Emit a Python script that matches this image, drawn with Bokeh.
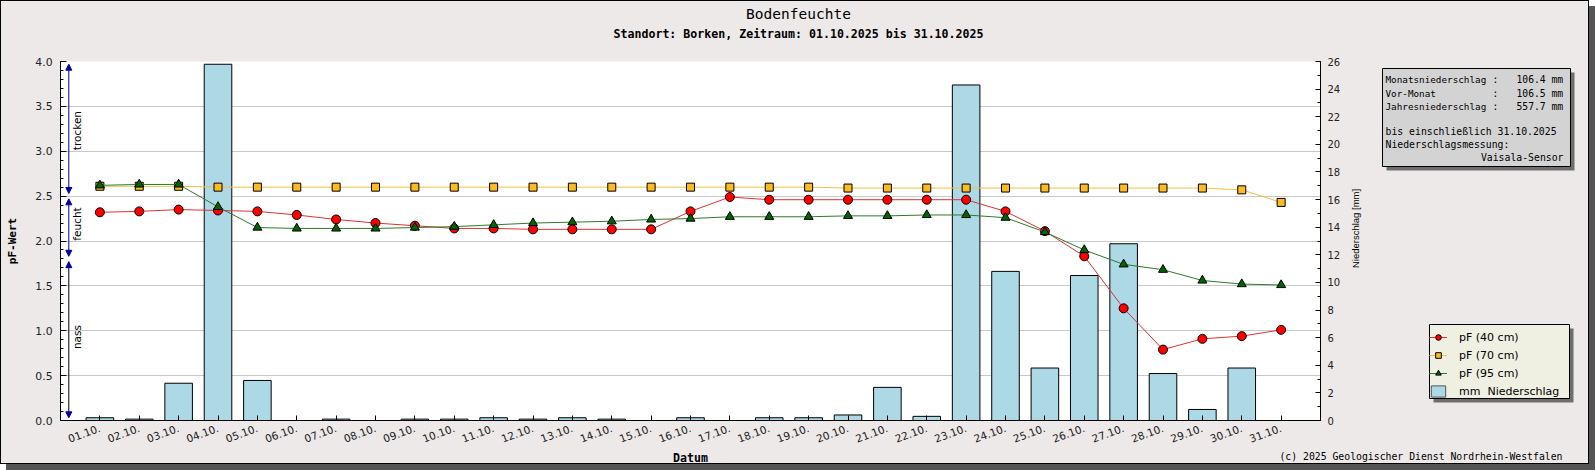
from math import pi
from bokeh.plotting import figure
from bokeh.layouts import column, row
from bokeh.models import (Range1d, LinearAxis, FixedTicker, PrintfTickFormatter, Label,
                          Legend, LegendItem, Arrow, NormalHead)
from bokeh.embed import file_html
from bokeh.resources import INLINE

# ---------------- data ----------------
days = list(range(1, 32))
day_labels = ["01.10.", "02.10.", "03.10.", "04.10.", "05.10.", "06.10.", "07.10.", "08.10.",
              "09.10.", "10.10.", "11.10.", "12.10.", "13.10.", "14.10.", "15.10.", "16.10.",
              "17.10.", "18.10.", "19.10.", "20.10.", "21.10.", "22.10.", "23.10.", "24.10.",
              "25.10.", "26.10.", "27.10.", "28.10.", "29.10.", "30.10.", "31.10."]
pf_40 = [2.32, 2.33, 2.35, 2.34, 2.33, 2.29, 2.24, 2.20, 2.17, 2.14, 2.14, 2.13, 2.13, 2.13, 2.13, 2.33,
         2.49, 2.46, 2.46, 2.46, 2.46, 2.46, 2.46, 2.33, 2.11, 1.83, 1.25, 0.79, 0.91, 0.94, 1.01]
pf_70 = [2.61, 2.61, 2.61, 2.60, 2.60, 2.60, 2.60, 2.60, 2.60, 2.60, 2.60, 2.60, 2.60, 2.60, 2.60, 2.60,
         2.60, 2.60, 2.60, 2.59, 2.59, 2.59, 2.59, 2.59, 2.59, 2.59, 2.59, 2.59, 2.59, 2.57, 2.43]
pf_95 = [2.62, 2.63, 2.63, 2.38, 2.15, 2.14, 2.14, 2.14, 2.15, 2.16, 2.18, 2.20, 2.21, 2.22, 2.24, 2.25,
         2.27, 2.27, 2.27, 2.28, 2.28, 2.29, 2.29, 2.26, 2.10, 1.90, 1.74, 1.68, 1.56, 1.52, 1.51]
rain_mm = [0.2, 0.1, 2.7, 25.8, 2.9, 0.0, 0.1, 0.0, 0.1, 0.1, 0.2, 0.1, 0.2, 0.1, 0.0, 0.2,
           0.0, 0.2, 0.2, 0.4, 2.4, 0.3, 24.3, 10.8, 3.8, 10.5, 12.8, 3.4, 0.8, 3.8, 0.0]
pf_ticks = [0.0, 0.5, 1.0, 1.5, 2.0, 2.5, 3.0, 3.5, 4.0]
mm_ticks = [0, 2, 4, 6, 8, 10, 12, 14, 16, 18, 20, 22, 24, 26]
zone_names = ["trocken", "feucht", "nass"]
zone_bounds = [4.0, 2.5, 1.8, 0.0]
zone_label_pos = [3.23, 2.19, 0.93]
series_names = ["pF (40 cm)", "pF (70 cm)", "pF (95 cm)", "mm  Niederschlag"]
info_names = ["Monatsniederschlag", "Vor-Monat", "Jahresniederschlag"]
info_values = ["106.4 mm", "106.5 mm", "557.7 mm"]
info_notes = ["bis einschließlich 31.10.2025", "Niederschlagsmessung:"]
info_right = "Vaisala-Sensor"
title = "Bodenfeuchte"
subtitle = "Standort: Borken, Zeitraum: 01.10.2025 bis 31.10.2025"
copyright_text = "(c) 2025 Geologischer Dienst Nordrhein-Westfalen"

# ---------------- layout (pixels inside the outer 1px border) ----------------
WIN, HIN = 1587, 462
HEAD_H, FOOT_H = 50, 12
MID_H = HIN - HEAD_H - FOOT_H          # 400
MAIN_W = 1345
SIDE_W = WIN - MAIN_W
FL, FR = 59, 1319                      # frame left / right
FT, FB = 60, 419                       # frame top / bottom
BT = FT - HEAD_H                       # 10
BB = HEAD_H + MID_H - FB               # 31

BG = "#ECE9E8"
MONO = "DejaVu Sans Mono"
SANS = "DejaVu Sans"
SHADOW = "#6E6E6E"


def plain_fig(w, h, x0, x1, y_top, y_bot, bt=0, bb=0):
    f = figure(width=w, height=h, x_range=Range1d(x0, x1), y_range=Range1d(y_bot, y_top),
               output_backend="svg", toolbar_location=None,
               min_border_left=0, min_border_right=0, min_border_top=bt, min_border_bottom=bb,
               x_axis_location=None, y_axis_location=None,
               background_fill_color=BG, border_fill_color=BG, outline_line_color=None)
    f.grid.visible = False
    return f


def lab(f, x, y, text, **kw):
    opts = dict(text_align="left", text_baseline="middle", text_font=SANS,
                text_font_size="11px", text_color="black")
    opts.update(kw)
    f.add_layout(Label(x=x, y=y, text=text, **opts))

# ---------------- header ----------------
head = plain_fig(WIN, HEAD_H, 0, WIN, 0, HEAD_H)
lab(head, 797, 12.8, title, text_align="center", text_font=MONO, text_font_size="14.5px")
lab(head, 797, 32.0, subtitle, text_align="center", text_font=MONO, text_font_size="11.6px",
    text_font_style="bold")

# ---------------- main chart ----------------
p = figure(width=MAIN_W, height=MID_H, x_range=Range1d(0, 32), y_range=Range1d(0, 4),
           output_backend="svg", toolbar_location=None,
           min_border_left=FL, min_border_right=MAIN_W - FR,
           min_border_top=BT, min_border_bottom=BB,
           background_fill_color="white", border_fill_color=BG, outline_line_color=None)
p.extra_y_ranges = {"mm": Range1d(0, 26)}

p.xgrid.visible = False
p.ygrid.ticker = FixedTicker(ticks=pf_ticks)
p.ygrid.grid_line_color = "#C8C8C8"

ya = p.yaxis[0]
ya.ticker = FixedTicker(ticks=pf_ticks, minor_ticks=[i / 10 for i in range(41)])
ya.formatter = PrintfTickFormatter(format="%.1f")
ya.major_tick_in, ya.major_tick_out = 6, 0
ya.minor_tick_in, ya.minor_tick_out = 3, 0
ya.major_label_text_font = SANS
ya.major_label_text_font_size = "10.8px"
ya.major_label_text_color = "#222222"
ya.major_label_standoff = 8
ya.axis_label = "pF-Wert"
ya.axis_label_text_font = MONO
ya.axis_label_text_font_size = "11px"
ya.axis_label_text_font_style = "bold"
ya.axis_label_text_color = "black"
ya.axis_label_standoff = 13

ra = LinearAxis(y_range_name="mm", ticker=FixedTicker(ticks=mm_ticks, minor_ticks=list(range(27))))
ra.major_tick_in, ra.major_tick_out = 5, 0
ra.minor_tick_in, ra.minor_tick_out = 3, 0
ra.major_label_text_font = SANS
ra.major_label_text_font_size = "10px"
ra.major_label_text_color = "#222222"
ra.major_label_standoff = 7
p.add_layout(ra, "right")

xa = p.xaxis[0]
xa.ticker = FixedTicker(ticks=days, minor_ticks=[])
xa.major_label_overrides = {d: s for d, s in zip(days, day_labels)}
xa.major_label_orientation = 0.35
xa.major_tick_in, xa.major_tick_out = 5, 0
xa.minor_tick_line_color = None
xa.major_label_text_font = SANS
xa.major_label_text_font_size = "10.5px"
xa.major_label_text_color = "#222222"
xa.major_label_standoff = 7

BAR_STYLE = dict(fill_color="#ADD8E6", line_color="black", line_width=1)
S40 = dict(marker="circle", size=9, fill_color="#FF0000", line_color="black")
S70 = dict(marker="square", size=8, fill_color="#FDBA21", line_color="black")
S95 = dict(marker="triangle", size=9, fill_color="#006400", line_color="black")
L40 = dict(line_color="#E03030", line_width=1)
L70 = dict(line_color="#F2C040", line_width=1)
L95 = dict(line_color="#2E7A2E", line_width=1)

p.vbar(x=days, top=rain_mm, width=0.7, y_range_name="mm", **BAR_STYLE)
p.line(days, pf_70, **L70)
p.scatter(days, pf_70, **S70)
p.line(days, pf_40, **L40)
p.scatter(days, pf_40, **S40)
p.line(days, pf_95, **L95)
p.scatter(days, pf_95, **S95)

ax = (67.3 - FL) / (FR - FL) * 32
tx = (75.7 - FL) / (FR - FL) * 32
zone_colors = ["#0000A0", "#0000A0", "black"]
for i, name in enumerate(zone_names):
    top, bot = zone_bounds[i], zone_bounds[i + 1]
    p.add_layout(Arrow(start=NormalHead(size=6, fill_color="#0000A0", line_color="#0000A0"),
                       end=NormalHead(size=6, fill_color="#0000A0", line_color="#0000A0"),
                       x_start=ax, y_start=top - 0.03, x_end=ax, y_end=bot + 0.03,
                       line_color=zone_colors[i], line_width=1))
    lab(p, tx, zone_label_pos[i], name, angle=pi / 2, text_align="center", text_font_size="10.5px")

# ---------------- side panel (frame aligned with the chart frame) ----------------
side = plain_fig(SIDE_W, MID_H, MAIN_W, WIN, FT, FB, bt=BT, bb=BB)
lab(side, 1353.7, 227, "Niederschlag [mm]", angle=pi / 2, text_align="center",
    text_font="Liberation Sans", text_font_size="9.5px")

# info box
side.quad(left=[1385], right=[1573], top=[71], bottom=[169], fill_color=SHADOW, line_color=None)
side.quad(left=[1381], right=[1569], top=[67], bottom=[165], fill_color="#D3D3D3",
          line_color="black", line_width=1)
for nm, val, yy in zip(info_names, info_values, [78.3, 91.7, 105.0]):
    lab(side, 1384, yy, nm, text_font=MONO, text_font_size="9.3px")
    lab(side, 1494, yy, ":", text_align="center", text_font=MONO, text_font_size="9.7px")
    lab(side, 1561.7, yy, val, text_align="right", text_font=MONO, text_font_size="9.7px")
for txt, yy in zip(info_notes, [130.0, 143.3]):
    lab(side, 1384, yy, txt, text_font=MONO, text_font_size="9.8px")
lab(side, 1562, 156.3, info_right, text_align="right", text_font=MONO, text_font_size="9.8px")

# legend box
side.quad(left=[1432], right=[1572], top=[327], bottom=[401], fill_color=SHADOW, line_color=None)
side.quad(left=[1428], right=[1568], top=[323], bottom=[397], fill_color="#EFEFE2",
          line_color="black", line_width=1)
nan = [float("nan")]
r40 = [side.line(nan, nan, **L40), side.scatter(nan, nan, **S40)]
r70 = [side.line(nan, nan, **L70), side.scatter(nan, nan, **S70)]
r95 = [side.line(nan, nan, **L95), side.scatter(nan, nan, **S95)]
rb = [side.vbar(x=nan, top=nan, width=0.7, fill_color="#ADD8E6", line_color="#555555", line_width=1)]
legend = Legend(items=[LegendItem(label=series_names[0], renderers=r40),
                       LegendItem(label=series_names[1], renderers=r70),
                       LegendItem(label=series_names[2], renderers=r95),
                       LegendItem(label=series_names[3], renderers=rb)],
                location=(1428 - MAIN_W, FB - 398.5), margin=0, padding=4, spacing=1,
                glyph_width=18, glyph_height=14, label_height=17, label_standoff=12,
                label_text_font=SANS, label_text_font_size="11px", label_text_color="black",
                background_fill_alpha=0, border_line_color=None)
side.add_layout(legend, "center")

# ---------------- footer ----------------
foot = plain_fig(WIN, FOOT_H, 0, WIN, HIN - FOOT_H, HIN)
lab(foot, 689, 456, "Datum", text_align="center", text_font=MONO, text_font_size="11.6px",
    text_font_style="bold")
lab(foot, 1561, 454.5, copyright_text, text_align="right", text_font=MONO, text_font_size="9.8px")

page = column(head, row(p, side), foot,
              styles={"border": "1px solid black", "box-shadow": "6px 6px 0px #555555",
                      "background-color": BG})

open("out.html", "w").write(file_html(page, INLINE))
